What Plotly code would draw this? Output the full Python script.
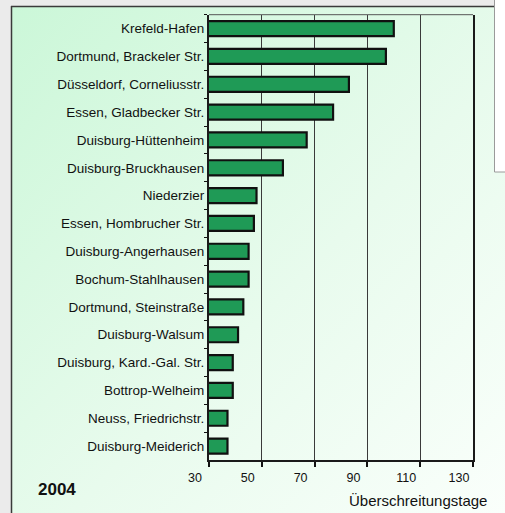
import base64
import plotly.graph_objects as go

stations = [
    "Krefeld-Hafen",
    "Dortmund, Brackeler Str.",
    "Düsseldorf, Corneliusstr.",
    "Essen, Gladbecker Str.",
    "Duisburg-Hüttenheim",
    "Duisburg-Bruckhausen",
    "Niederzier",
    "Essen, Hombrucher Str.",
    "Duisburg-Angerhausen",
    "Bochum-Stahlhausen",
    "Dortmund, Steinstraße",
    "Duisburg-Walsum",
    "Duisburg, Kard.-Gal. Str.",
    "Bottrop-Welheim",
    "Neuss, Friedrichstr.",
    "Duisburg-Meiderich",
]
days = [100, 97, 83, 77, 67, 58, 48, 47, 45, 45, 43, 41, 39, 39, 37, 37]
xticks = [30, 50, 70, 90, 110, 130]
year_label = "2004"
x_title = "Überschreitungstage"

W, H = 505, 513
def px(x):
    return x / W
def py(y):
    return 1 - y / H

FONT = "Liberation Sans, Arial, sans-serif"

svg = (
    '<svg xmlns="http://www.w3.org/2000/svg" width="500" height="510" preserveAspectRatio="none">'
    '<defs><linearGradient id="g" x1="0" y1="0" x2="1" y2="1">'
    '<stop offset="0" stop-color="#cbf7d8"/>'
    '<stop offset="0.55" stop-color="#e8fbed"/>'
    '<stop offset="1" stop-color="#fbfffc"/>'
    '</linearGradient></defs>'
    '<rect width="500" height="510" fill="url(#g)"/></svg>'
)
svg_uri = "data:image/svg+xml;base64," + base64.b64encode(svg.encode()).decode()

fig = go.Figure(
    go.Bar(
        x=days,
        y=stations,
        orientation="h",
        marker=dict(color="#1f9a56", line=dict(color="#101010", width=2.2)),
        width=0.54,
    )
)

fig.update_layout(
    width=W,
    height=H,
    margin=dict(l=0, r=0, t=0, b=0, pad=0),
    paper_bgcolor="#ebebeb",
    plot_bgcolor="rgba(0,0,0,0)",
    showlegend=False,
    font=dict(family=FONT, size=12, color="#111"),
    images=[
        dict(
            source=svg_uri,
            xref="paper", yref="paper",
            x=px(11), y=py(6),
            sizex=px(W + 10 - 11), sizey=(H + 10 - 6) / H,
            sizing="stretch",
            xanchor="left", yanchor="top",
            layer="below",
        )
    ],
    shapes=[
        dict(type="line", xref="paper", yref="paper",
             x0=px(11.5), x1=px(11.5), y0=py(6), y1=-0.05,
             line=dict(color="#3a3a3a", width=1.5), layer="below"),
        dict(type="line", xref="paper", yref="paper",
             x0=px(11), x1=1.05, y0=py(6.5), y1=py(6.5),
             line=dict(color="#3a3a3a", width=1.5), layer="below"),
        dict(type="line", xref="paper", yref="paper",
             x0=px(209), x1=px(473), y0=py(14.7), y1=py(14.7),
             line=dict(color="#555", width=1)),
        dict(type="rect", xref="paper", yref="paper",
             x0=px(494.5), x1=1.02, y0=py(172), y1=1.02,
             fillcolor="white", line=dict(color="#9a9a9a", width=1)),
    ],
    annotations=[
        dict(text="<b>" + year_label + "</b>", xref="paper", yref="paper",
             x=px(36), y=py(489), xanchor="left", yanchor="middle",
             showarrow=False, font=dict(family=FONT, size=17, color="#111")),
        dict(text=x_title, xref="paper", yref="paper",
             x=px(489), y=py(500), xanchor="right", yanchor="middle",
             showarrow=False, font=dict(family=FONT, size=15, color="#111")),
    ],
)

fig.update_xaxes(
    automargin=False,
    domain=[px(209), px(473)],
    range=[30, 130],
    tickvals=xticks,
    showgrid=True, gridcolor="#3a3a3a", gridwidth=1,
    ticks="outside", ticklen=5, tickcolor="#111", tickwidth=1.5,
    showline=True, linecolor="#1a1a1a", linewidth=2,
    ticklabelshift=-14,
    tickfont=dict(family=FONT, size=12.5, color="#111"),
    zeroline=False,
)
fig.update_yaxes(
    automargin=False,
    domain=[py(460), py(14.7)],
    type="category",
    categoryorder="array", categoryarray=stations,
    autorange="reversed",
    tickson="boundaries",
    ticks="outside", ticklen=3, tickcolor="#111",
    showline=True, linecolor="#1a1a1a", linewidth=2, mirror=True,
    showgrid=False,
    tickfont=dict(family=FONT, size=13.5, color="#111"),
)

fig.write_html(
    "out.html",
    config={"displayModeBar": False},
    post_script="document.body.style.margin='0';document.body.style.background='#ebebeb';",
)
